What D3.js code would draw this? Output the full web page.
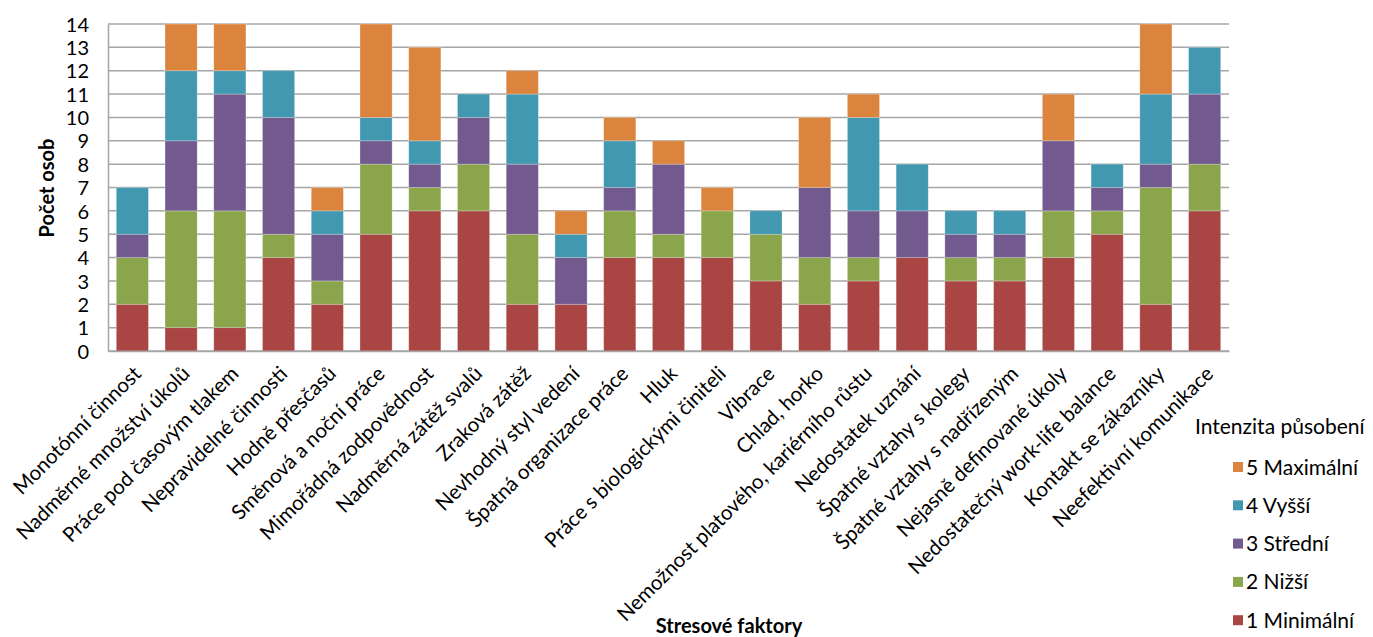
<!DOCTYPE html>
<html>
<head>
<meta charset="utf-8">
<script src="https://cdn.jsdelivr.net/npm/d3@7"></script>
<style>
  body { margin: 0; background: #fff; }
  text { font-family: Lato, "Open Sans", sans-serif; fill: #000; }
</style>
</head>
<body>
<div id="chart"></div>
<script>
// categories (stress factors)
const categories = [
  'Monotónní činnost', 'Nadměrné množství úkolů', 'Práce pod časovým tlakem',
  'Nepravidelné činnosti', 'Hodně přesčasů', 'Směnová a noční práce',
  'Mimořádná zodpovědnost', 'Nadměrná zátěž svalů', 'Zraková zátěž',
  'Nevhodný styl vedení', 'Špatná organizace práce', 'Hluk',
  'Práce s biologickými činiteli', 'Vibrace', 'Chlad, horko',
  'Nemožnost platového, kariérního růstu', 'Nedostatek uznání',
  'Špatné vztahy s kolegy', 'Špatné vztahy s nadřízeným',
  'Nejasně definované úkoly', 'Nedostatečný work-life balance',
  'Kontakt se zákazníky', 'Neefektivní komunikace'
];

// series values, one per intensity level
const minimalni = [2, 1, 1, 4, 2, 5, 6, 6, 2, 2, 4, 4, 4, 3, 2, 3, 4, 3, 3, 4, 5, 2, 6];
const nizsi     = [2, 5, 5, 1, 1, 3, 1, 2, 3, 0, 2, 1, 2, 2, 2, 1, 0, 1, 1, 2, 1, 5, 2];
const stredni   = [1, 3, 5, 5, 2, 1, 1, 2, 3, 2, 1, 3, 0, 0, 3, 2, 2, 1, 1, 3, 1, 1, 3];
const vyssi     = [2, 3, 1, 2, 1, 1, 1, 1, 3, 1, 2, 0, 0, 1, 0, 4, 2, 1, 1, 0, 1, 3, 2];
const maximalni = [0, 2, 2, 0, 1, 4, 4, 0, 1, 1, 1, 1, 1, 0, 3, 1, 0, 0, 0, 2, 0, 3, 0];

const seriesNames = ['1 Minimální', '2 Nižší', '3 Střední', '4 Vyšší', '5 Maximální'];
const seriesValues = [minimalni, nizsi, stredni, vyssi, maximalni];
const colors = ['#a94644', '#8aa54c', '#725a8e', '#4298b0', '#db843d'];
const yTicks = d3.range(0, 15);

const width = 1373, height = 637;
const margin = { top: 24, right: 144, bottom: 286, left: 108 };
const innerW = width - margin.left - margin.right;
const innerH = height - margin.top - margin.bottom;

// build rows for d3.stack
const rows = categories.map(function (c, i) {
  const r = { cat: c };
  seriesNames.forEach(function (s, j) { r[s] = seriesValues[j][i]; });
  return r;
});
const stacked = d3.stack().keys(seriesNames)(rows);

const x = d3.scaleBand()
  .domain(categories)
  .range([0, innerW])
  .paddingInner(0.34)
  .paddingOuter(0.17);

const y = d3.scaleLinear()
  .domain([0, 14])
  .range([innerH, 0]);

const svg = d3.select('#chart').append('svg')
  .attr('width', width)
  .attr('height', height);

const g = svg.append('g')
  .attr('transform', 'translate(' + margin.left + ',' + margin.top + ')');

// gridlines
g.append('g')
  .selectAll('line')
  .data(yTicks)
  .enter().append('line')
  .attr('x1', 0)
  .attr('x2', innerW)
  .attr('y1', function (d) { return y(d); })
  .attr('y2', function (d) { return y(d); })
  .attr('stroke', '#a6a6a6')
  .attr('stroke-width', 1.5);

// y axis
const yAxis = g.append('g')
  .call(d3.axisLeft(y).tickValues(yTicks).tickSize(0).tickPadding(19));
yAxis.select('.domain').attr('stroke', '#a6a6a6').attr('stroke-width', 1.5);
yAxis.selectAll('text')
  .style('font-size', '20px')
  .attr('dy', '0.36em');

// bars
g.append('g')
  .selectAll('g')
  .data(stacked)
  .enter().append('g')
  .attr('fill', function (d, i) { return colors[i]; })
  .selectAll('rect')
  .data(function (d) { return d; })
  .enter().append('rect')
  .attr('x', function (d) { return x(d.data.cat); })
  .attr('y', function (d) { return y(d[1]); })
  .attr('width', x.bandwidth())
  .attr('height', function (d) { return y(d[0]) - y(d[1]); })
  .attr('stroke', '#ffffff')
  .attr('stroke-opacity', 0.35)
  .attr('stroke-width', 0.8);

// x axis
const xAxis = g.append('g')
  .attr('transform', 'translate(0,' + innerH + ')')
  .call(d3.axisBottom(x).tickSize(0).tickPadding(0));
xAxis.select('.domain').attr('stroke', '#a6a6a6').attr('stroke-width', 1.5);
xAxis.selectAll('text')
  .style('font-size', '20.5px')
  .style('text-anchor', 'end')
  .attr('dy', 0)
  .attr('transform', 'translate(10,24) rotate(-45)');

// axis titles
svg.append('text')
  .attr('transform', 'translate(54,188) rotate(-90)')
  .attr('text-anchor', 'middle')
  .style('font-size', '20px')
  .style('font-weight', 'bold')
  .text('Počet osob');

svg.append('text')
  .attr('x', 729)
  .attr('y', 633)
  .attr('text-anchor', 'middle')
  .style('font-size', '20px')
  .style('font-weight', 'bold')
  .text('Stresové faktory');

// legend
const legend = svg.append('g');
legend.append('text')
  .attr('x', 1195)
  .attr('y', 434)
  .style('font-size', '21px')
  .text('Intenzita působení');

const items = legend.selectAll('g.item')
  .data(seriesNames.slice().reverse())
  .enter().append('g')
  .attr('class', 'item')
  .attr('transform', function (d, i) { return 'translate(1233,' + (467 + i * 38.3) + ')'; });
items.append('rect')
  .attr('x', 0)
  .attr('y', -5)
  .attr('width', 10)
  .attr('height', 10)
  .attr('fill', function (d) { return colors[seriesNames.indexOf(d)]; });
items.append('text')
  .attr('x', 13)
  .attr('y', 0)
  .attr('dy', '0.36em')
  .style('font-size', '21px')
  .text(function (d) { return d; });
</script>
</body>
</html>
